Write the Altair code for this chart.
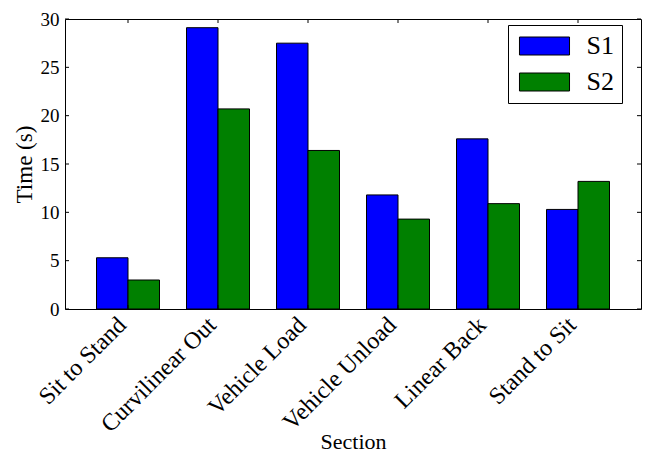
import json
import altair as alt
import pandas as pd

# ---- data ----
sections = ["Sit to Stand", "Curvilinear Out", "Vehicle Load",
            "Vehicle Unload", "Linear Back", "Stand to Sit"]
s1_values = [5.3, 29.1, 27.5, 11.8, 17.6, 10.3]
s2_values = [3.0, 20.7, 16.4, 9.3, 10.9, 13.2]
series_names = ["S1", "S2"]
series_colors = ["#0000ff", "#008000"]
y_ticks = [0, 5, 10, 15, 20, 25, 30]

BAR_W = 0.35
W, H = 576, 290
PAD_TOP = 11
FONT = "Liberation Serif"

rows = []
for i, sec in enumerate(sections):
    rows.append({"section": sec, "series": "S1", "value": s1_values[i],
                 "x0": i, "x1": i + BAR_W})
    rows.append({"section": sec, "series": "S2", "value": s2_values[i],
                 "x0": i + BAR_W, "x1": i + 2 * BAR_W})
bars_df = pd.DataFrame(rows)
centers_df = pd.DataFrame({"c": [i + BAR_W for i in range(len(sections))]})
yt_df = pd.DataFrame({"v": y_ticks})

xscale = alt.Scale(domain=[-BAR_W, len(sections) + 0.05], nice=False, zero=False)
yscale = alt.Scale(domain=[0, 30], nice=False)

label_expr = json.dumps(sections) + "[round(datum.value - %s)]" % BAR_W

x_axis = alt.Axis(
    values=[i + BAR_W for i in range(len(sections))],
    labelExpr=label_expr, labelAngle=-45, labelAlign="right",
    labelBaseline="middle", labelFont=FONT, labelFontSize=24,
    labelColor="black", labelPadding=12, labelOffset=-6,
    ticks=False, domain=False,
    grid=False, title="Section", titleFont=FONT, titleFontSize=22,
    titleFontWeight="normal", titleColor="black",
    titleBaseline="alphabetic", titleY=139,
    labelOverlap=False, labelLimit=400,
)
y_axis = alt.Axis(
    values=y_ticks, labelFont=FONT, labelFontSize=19, labelColor="black",
    labelPadding=6, ticks=False, domain=False, grid=False,
    title="Time (s)", titleFont=FONT, titleFontSize=23,
    titleFontWeight="normal", titleColor="black", titlePadding=4,
)

nbsp = "\u00a0"
bars = alt.Chart(bars_df).mark_bar(stroke="black", strokeWidth=1).encode(
    x=alt.X("x0:Q", scale=xscale, axis=x_axis),
    x2="x1:Q",
    y=alt.Y("value:Q", scale=yscale, axis=y_axis),
    y2=alt.datum(0),
    color=alt.Color(
        "series:N",
        scale=alt.Scale(domain=series_names, range=series_colors),
        legend=alt.Legend(
            orient="none", legendX=443, legendY=6, title=None,
            symbolType="M-2.78,-1L2.78,-1L2.78,1L-2.78,1Z", symbolSize=324,
            symbolOffset=15.5,
            symbolStrokeColor="black", symbolStrokeWidth=1, symbolOpacity=1,
            labelFont=FONT, labelFontSize=26, labelColor="black",
            labelOffset=29, rowPadding=10, padding=8,
            strokeColor="black", fillColor="white", cornerRadius=0,
            labelExpr="datum.label + '%s'" % (nbsp * 4),
        ),
    ),
)

tick_len = 4
left_ticks = alt.Chart(yt_df).mark_rule(color="black", strokeWidth=1).encode(
    y=alt.Y("v:Q", scale=yscale), x=alt.value(0), x2=alt.value(tick_len))
right_ticks = alt.Chart(yt_df).mark_rule(color="black", strokeWidth=1).encode(
    y=alt.Y("v:Q", scale=yscale), x=alt.value(W - tick_len), x2=alt.value(W))
top_ticks = alt.Chart(centers_df).mark_rule(color="black", strokeWidth=1).encode(
    x=alt.X("c:Q", scale=xscale), y=alt.value(0), y2=alt.value(tick_len))
bottom_ticks = alt.Chart(centers_df).mark_rule(color="black", strokeWidth=1).encode(
    x=alt.X("c:Q", scale=xscale), y=alt.value(H - tick_len), y2=alt.value(H))

chart = alt.layer(bars, left_ticks, right_ticks, top_ticks, bottom_ticks).properties(
    width=W, height=H,
    autosize=alt.AutoSizeParams(type="none"),
    padding={"left": 57, "top": PAD_TOP, "right": 5, "bottom": 445 - PAD_TOP - H},
    background="white",
).configure_view(stroke="black", strokeWidth=1)

chart.save("out.html", embed_options={"renderer": "svg", "actions": False})
